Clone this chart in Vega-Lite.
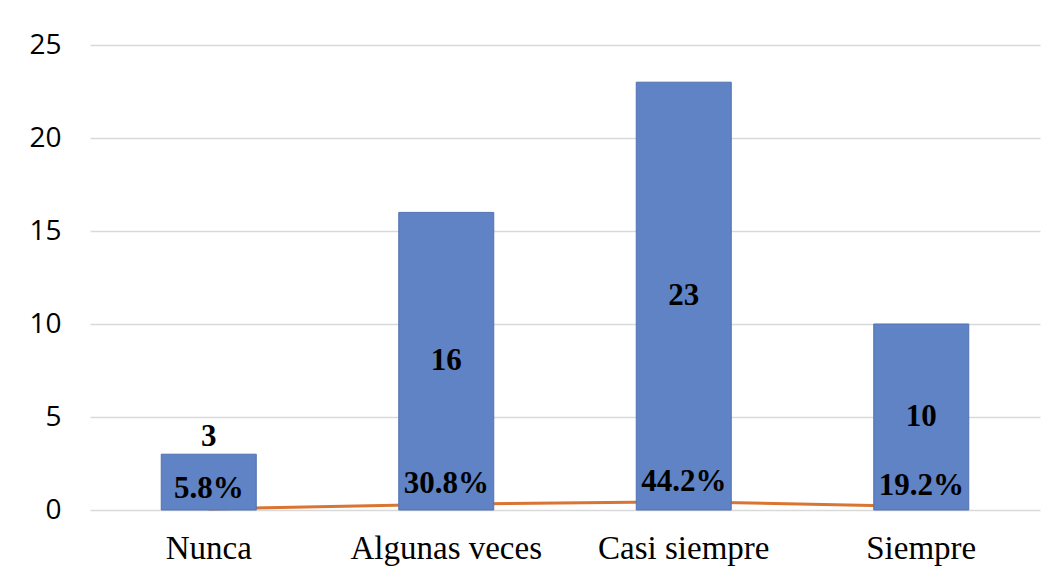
{
  "$schema": "https://vega.github.io/schema/vega-lite/v6.json",
  "width": 950,
  "height": 465,
  "autosize": "none",
  "padding": {"left": 90, "top": 45, "right": 18, "bottom": 67},
  "background": "white",
  "config": {"view": {"stroke": null}},
  "data": {
    "values": [
      {"cat": "Nunca", "count": 3, "pct": 0.058, "pctLabel": "5.8%"},
      {"cat": "Algunas veces", "count": 16, "pct": 0.308, "pctLabel": "30.8%"},
      {"cat": "Casi siempre", "count": 23, "pct": 0.442, "pctLabel": "44.2%"},
      {"cat": "Siempre", "count": 10, "pct": 0.192, "pctLabel": "19.2%"}
    ]
  },
  "encoding": {
    "x": {
      "field": "cat",
      "type": "nominal",
      "sort": null,
      "scale": {"paddingInner": 0.6, "paddingOuter": 0.3},
      "axis": {
        "title": null,
        "labelAngle": 0,
        "labelFont": "Liberation Serif",
        "labelFontSize": 33,
        "labelColor": "#000000",
        "labelPadding": 22,
        "labelLimit": 0,
        "ticks": false,
        "domain": false
      }
    },
    "y": {
      "field": "count",
      "type": "quantitative",
      "title": null,
      "scale": {"domain": [0, 25], "nice": false, "zero": true},
      "axis": {
        "title": null,
        "values": [0, 5, 10, 15, 20, 25],
        "labelFont": "Open Sans",
        "labelFontSize": 28,
        "labelColor": "#000000",
        "labelPadding": 29,
        "ticks": false,
        "domain": false,
        "gridColor": "#d9d9d9",
        "gridWidth": 1.3
      }
    }
  },
  "layer": [
    {
      "mark": {"type": "line", "color": "#DA7432", "strokeWidth": 3},
      "encoding": {
        "y": {"field": "pct", "type": "quantitative"}
      }
    },
    {
      "mark": {"type": "bar", "color": "#5f83c4", "stroke": "#5172b2", "strokeWidth": 1}
    },
    {
      "transform": [{"filter": "datum.count >= 5"}, {"calculate": "datum.count / 2", "as": "mid"}],
      "mark": {"type": "text", "font": "Liberation Serif", "fontWeight": "bold", "fontSize": 31, "color": "#000000", "baseline": "middle"},
      "encoding": {
        "y": {"field": "mid", "type": "quantitative"},
        "text": {"field": "count", "type": "quantitative"}
      }
    },
    {
      "transform": [{"filter": "datum.count < 5"}],
      "mark": {"type": "text", "font": "Liberation Serif", "fontWeight": "bold", "fontSize": 31, "color": "#000000", "baseline": "middle", "dy": -17},
      "encoding": {
        "text": {"field": "count", "type": "quantitative"}
      }
    },
    {
      "mark": {"type": "text", "font": "Liberation Serif", "fontWeight": "bold", "fontSize": 31, "color": "#000000", "baseline": "middle", "dy": -20},
      "encoding": {
        "y": {"field": "pct", "type": "quantitative"},
        "text": {"field": "pctLabel", "type": "nominal"}
      }
    }
  ]
}
